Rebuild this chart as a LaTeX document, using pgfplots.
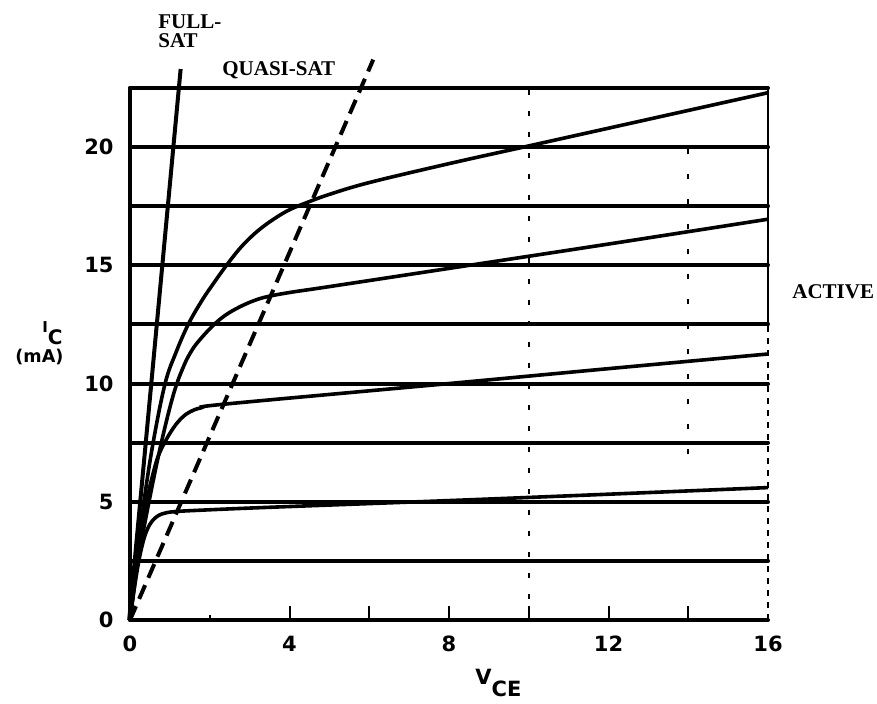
\documentclass[border=0pt]{standalone}
\usepackage{fontspec}
\setmainfont{Liberation Serif}
\newfontfamily\dv{DejaVu Sans}
\usepackage{pgfplots}
\pgfplotsset{compat=1.18}
\begin{document}
\begin{tikzpicture}
\useasboundingbox (-65pt,-42pt) rectangle (373.5pt,310pt);
\begin{axis}[
  at={(0pt,0pt)}, anchor=south west,
  scale only axis, width=319pt, height=266pt,
  xmin=0, xmax=16, ymin=0, ymax=22.5,
  clip=false,
  axis line style={draw=none},
  tick style={draw=none},
  xtick={0,4,8,12,16}, xticklabels={0,4,8,12,16},
  ytick={0,5,10,15,20}, yticklabels={0,5,10,15,20},
  xticklabel style={font={\dv\bfseries\fontsize{10.5}{12}\selectfont}, inner sep=0pt, yshift=-8pt},
  yticklabel style={font={\dv\bfseries\fontsize{10.5}{12}\selectfont}, inner sep=0pt, xshift=-8pt},
]
% horizontal grid lines
\pgfplotsinvokeforeach{2.5,5,7.5,10,12.5,15,17.5,20,22.5}{
  \addplot[black, line width=2pt, line cap=round] coordinates {(0,#1) (16,#1)};
}
% left and bottom axes
\addplot[black, line width=2pt, line cap=round] coordinates {(0,0) (0,22.5)};
\addplot[black, line width=2pt, line cap=round] coordinates {(0,0) (16,0)};
% right border: solid above 12.5, dotted below
\addplot[black, line width=1.3pt] coordinates {(16,12.5) (16,22.5)};
\addplot[black, line width=1.3pt, dash pattern=on 3pt off 3pt] coordinates {(16,0) (16,12.5)};
% faint dotted verticals
\addplot[black, line width=1.1pt, dash pattern=on 2.5pt off 8pt] coordinates {(10,0) (10,22.5)};
\addplot[black, line width=1.1pt, dash pattern=on 2.5pt off 10pt] coordinates {(14,7) (14,20.5)};
% small ticks on the bottom axis
\pgfplotsinvokeforeach{4,6,8,10,12,14}{
  \addplot[black, line width=1pt] coordinates {(#1,0) (#1,0.6)};
}
\addplot[black, line width=1pt] coordinates {(2,0) (2,0.2)};
% full saturation line
\addplot[black, line width=2pt] coordinates {(-0.02,0) (1.27,23.3)};
% quasi-saturation boundary (dashed)
\addplot[black, line width=2pt, dash pattern=on 7.5pt off 4pt] coordinates {(0,0) (6.1,23.7)};
% characteristic curves
\addplot[black, line width=1.8pt, smooth, tension=0.6] coordinates {
 (0,0) (0.08,1.0) (0.17,2.0) (0.27,2.9) (0.38,3.6) (0.5,4.05) (0.62,4.3) (0.75,4.45)
 (0.9,4.53) (1.1,4.58) (1.6,4.63) (3.4,4.76) (8,5.05) (12,5.32) (16,5.6)};
\addplot[black, line width=1.8pt, smooth, tension=0.6] coordinates {
 (0,0) (0.12,1.8) (0.25,3.4) (0.4,4.9) (0.55,6.0) (0.7,6.9) (0.9,7.6) (1.1,8.15)
 (1.3,8.55) (1.5,8.8) (1.8,8.98) (2.5,9.15) (8,10.0) (12,10.63) (16,11.25)};
\addplot[black, line width=1.8pt, smooth, tension=0.6] coordinates {
 (0,0) (0.2,2.5) (0.5,5.2) (0.8,7.6) (1.1,9.6) (1.35,10.75) (1.55,11.4) (1.75,11.85)
 (2.08,12.45) (2.4,12.9) (2.76,13.25) (3.1,13.5) (3.43,13.67) (4,13.85) (5,14.1) (8,14.87)
 (12,15.9) (16,16.95)};
\addplot[black, line width=1.8pt, smooth, tension=0.6] coordinates {
 (0,0) (0.17,2.5) (0.35,5) (0.58,7.5) (0.88,10) (1.15,11.3) (1.46,12.5) (1.8,13.5)
 (2.1,14.25) (2.42,15) (2.8,15.8) (3.2,16.45) (3.6,16.95) (4.0,17.35) (4.43,17.65)
 (5,18.0) (6,18.5) (8,19.3) (10,20.05) (12,20.8) (14,21.55) (16,22.3)};
\end{axis}
% region labels
\node[anchor=north west, align=left, inner sep=0pt, font={\bfseries\fontsize{10.5}{9.5}\selectfont}] at (14pt,303pt) {FULL-\\SAT};
\node[anchor=west, inner sep=0pt, font={\bfseries\fontsize{10.5}{12}\selectfont}] at (46pt,274.75pt) {QUASI-SAT};
\node[anchor=west, inner sep=0pt, font={\bfseries\fontsize{10.5}{12}\selectfont}] at (331pt,164pt) {ACTIVE};
% axis labels
\node[anchor=base west, inner sep=0pt, font={\dv\bfseries\fontsize{10.5}{12}\selectfont}] at (172.5pt,-32.5pt) {V\raisebox{-6pt}{CE}};
\node[anchor=base west, inner sep=0pt, font={\dv\bfseries\fontsize{10}{12}\selectfont}] at (-44pt,143.5pt) {{\fontsize{7.5}{8}\selectfont I}\raisebox{-6pt}{C}};
\node[anchor=base west, inner sep=0pt, font={\dv\bfseries\fontsize{8.8}{10}\selectfont}] at (-57.5pt,128.5pt) {(mA)};
\end{tikzpicture}
\end{document}
